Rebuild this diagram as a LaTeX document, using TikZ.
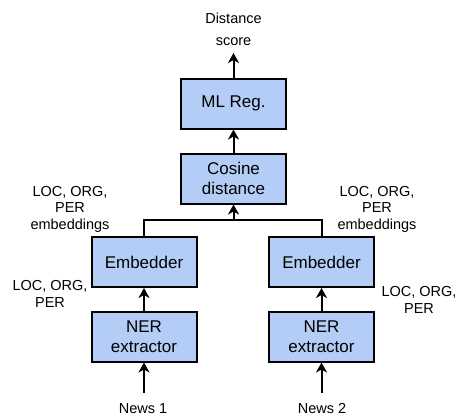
\documentclass[tikz,border=0pt]{standalone}
\usepackage{fontspec}
\setmainfont{Liberation Sans}
\usetikzlibrary{arrows.meta}
\definecolor{boxblue}{HTML}{B3CDF6}
\begin{document}
\begin{tikzpicture}[x=1pt,y=-1pt,
 blk/.style={draw=black, line width=2pt, fill=boxblue, minimum width=105pt, minimum height=50pt, align=center, font=\fontsize{17}{20}\selectfont, inner sep=0pt},
 lbl/.style={align=center, font=\fontsize{14.5}{16.3}\selectfont, inner sep=0pt, anchor=base},
 arr/.style={line width=2pt, -{Stealth[length=10pt,width=11pt,inset=3pt]}},
 ln/.style={line width=2pt}]
\useasboundingbox (0,0) rectangle (457,415);
\node[blk] (ml) at (233.5,103.5) {ML Reg.};
\node[blk] (cos) at (233.5,178.5) {Cosine\\distance};
\node[blk] (emb1) at (144,262) {Embedder};
\node[blk] (ner1) at (144,336.5) {NER\\extractor};
\node[blk] (emb2) at (321.5,262) {Embedder};
\node[blk] (ner2) at (321.5,336.5) {NER\\extractor};
\node[lbl, font=\fontsize{14.5}{22}\selectfont] (dist) at (233.5,45) {Distance\\score};
\node[lbl] (embl) at (70,229) {LOC, ORG,\\PER\\embeddings};
\node[lbl] (embr) at (377,229) {LOC, ORG,\\PER\\embeddings};
\node[lbl] (locl) at (50,307) {LOC, ORG,\\PER};
\node[lbl] (locr) at (419,313) {LOC, ORG,\\PER};
\node[lbl] (news1) at (143,413) {News 1};
\node[lbl] (news2) at (322,413) {News 2};
\coordinate (top) at (233.5,53);
\coordinate (j) at (233.5,220);
\coordinate (in1) at (144,393);
\coordinate (in2) at (321.5,393);
\draw[arr] (ml) -- (top);
\draw[arr] (cos) -- (ml);
\draw[ln] (emb1.north) |- (j) -| (emb2.north);
\draw[arr] (j) -- (cos);
\draw[arr] (ner1) -- (emb1);
\draw[arr] (ner2) -- (emb2);
\draw[arr] (in1) -- (ner1);
\draw[arr] (in2) -- (ner2);
\end{tikzpicture}
\end{document}
